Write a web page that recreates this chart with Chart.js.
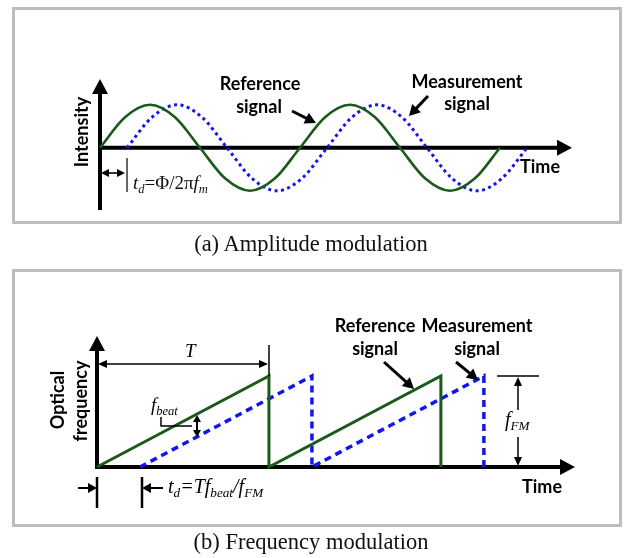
<!DOCTYPE html>
<html>
<head>
<meta charset="utf-8">
<script src="https://cdn.jsdelivr.net/npm/chart.js@4"></script>
<style>
  body { margin: 0; background: #fff; }
  #wrap { position: relative; width: 625px; height: 558px; background: #fff; }
  canvas { position: absolute; left: 0; }
  .cap { position: absolute; left: 0; width: 622px; text-align: center;
         font: 22.5px "Liberation Serif", serif; color: #111; line-height: 26px; }
</style>
</head>
<body>
<div id="wrap">
  <canvas id="chartA" width="625" height="258" style="top:0"></canvas>
  <canvas id="chartB" width="625" height="298" style="top:260px"></canvas>
  <div class="cap" style="top:231px">(a) Amplitude modulation</div>
  <div class="cap" style="top:529px">(b) Frequency modulation</div>
</div>
<script>
// Two schematic panels: AM phase delay and FM beat frequency

// (a) sine signals, x in eighths of a modulation period
const sineRefX  = [0, 1, 2, 3, 4, 5, 6, 7, 8, 9, 10, 11, 12, 13, 14, 15, 16];
const sineMeasX = [1.08, 2.08, 3.08, 4.08, 5.08, 6.08, 7.08, 8.08, 9.08, 10.08, 11.08, 12.08, 13.08, 14.08, 15.08, 16.08, 17.08];
const sineY     = [0, 0.71, 1, 0.71, 0, -0.71, -1, -0.71, 0, 0.71, 1, 0.71, 0, -0.71, -1, -0.71, 0];

// (b) sawtooth chirps, x in tenths of the sweep period T
const sawRefX  = [0, 10, 10, 20, 20];
const sawMeasX = [2.5, 12.5, 12.5, 22.5, 22.5];
const sawY     = [0, 1, 0, 1, 0];

const GREEN = '#1b5a1b';
const BLUE = '#1414f0';
const BOLD = 'bold 18px Lato, "Liberation Sans", sans-serif';
const SERIF = '"Liberation Serif", serif';

function pts(xs, ys) { return xs.map((x, i) => ({ x: x, y: ys[i] })); }

// Utility: filled arrow head at (x2,y2) pointing away from (x1,y1)
function head(ctx, x1, y1, x2, y2, len, half) {
    const a = Math.atan2(y2 - y1, x2 - x1);
    ctx.beginPath();
    ctx.moveTo(x2, y2);
    ctx.lineTo(x2 - len * Math.cos(a) + half * Math.sin(a), y2 - len * Math.sin(a) - half * Math.cos(a));
    ctx.lineTo(x2 - len * Math.cos(a) - half * Math.sin(a), y2 - len * Math.sin(a) + half * Math.cos(a));
    ctx.closePath();
    ctx.fill();
}

function arrow(ctx, x1, y1, x2, y2, w, len, half, both) {
    const a = Math.atan2(y2 - y1, x2 - x1);
    ctx.lineWidth = w;
    ctx.beginPath();
    ctx.moveTo(both ? x1 + len * 0.8 * Math.cos(a) : x1, both ? y1 + len * 0.8 * Math.sin(a) : y1);
    ctx.lineTo(x2 - len * 0.8 * Math.cos(a), y2 - len * 0.8 * Math.sin(a));
    ctx.stroke();
    head(ctx, x1, y1, x2, y2, len, half);
    if (both) head(ctx, x2, y2, x1, y1, len, half);
}

function line(ctx, pts, w) {
    ctx.lineWidth = w;
    ctx.beginPath();
    pts.forEach((p, i) => i ? ctx.lineTo(p[0], p[1]) : ctx.moveTo(p[0], p[1]));
    ctx.stroke();
}

function label(ctx, text, x, y, rot) {
    ctx.save();
    ctx.font = BOLD;
    ctx.textAlign = 'center';
    ctx.textBaseline = 'middle';
    ctx.translate(x, y);
    if (rot) ctx.rotate(-Math.PI / 2);
    ctx.fillText(text, 0, 0);
    ctx.restore();
}

// runs: [text, style] with 'i' italic, 's' subscript
function rich(ctx, x, y, runs, size) {
    ctx.textAlign = 'left';
    ctx.textBaseline = 'alphabetic';
    runs.forEach(([t, s]) => {
        const sub = s.includes('s');
        const fs = sub ? size * 0.66 : size;
        ctx.font = (s.includes('i') ? 'italic ' : '') + fs + 'px ' + SERIF;
        ctx.fillText(t, x, y + (sub ? size * 0.22 : 0));
        x += ctx.measureText(t).width;
    });
    return x;
}

function frame(ctx, x, y, w, h) {
    ctx.save();
    ctx.strokeStyle = '#bdbdbd';
    ctx.lineWidth = 3;
    ctx.strokeRect(x, y, w, h);
    ctx.restore();
}

// Axes with arrow tips, placed through the chart scales
function axes(chart, yBottom) {
    const ctx = chart.ctx, a = chart.chartArea;
    const x0 = chart.scales.x.getPixelForValue(0);
    const y0 = chart.scales.y.getPixelForValue(0);
    ctx.save();
    ctx.strokeStyle = '#000';
    ctx.fillStyle = '#000';
    ctx.lineWidth = 4;
    ctx.beginPath();
    ctx.moveTo(x0, y0); ctx.lineTo(a.right - 10, y0);
    ctx.moveTo(x0, yBottom); ctx.lineTo(x0, a.top + 10);
    ctx.stroke();
    head(ctx, x0, y0, a.right, y0, 15, 8);
    head(ctx, x0, yBottom, x0, a.top, 15, 8);
    ctx.restore();
}

const panelA = {
    id: 'panelA',
    beforeDraw(chart) {
        frame(chart.ctx, 13.5, 8.5, 607, 214);
    },
    beforeDatasetsDraw(chart) {
        axes(chart, 210);
    },
    afterDraw(chart) {
        const ctx = chart.ctx;
        ctx.save();
        ctx.fillStyle = '#000';
        ctx.strokeStyle = '#000';
        label(ctx, 'Intensity', 82, 132, true);
        label(ctx, 'Reference', 260, 84);
        label(ctx, 'signal', 259, 107);
        label(ctx, 'Measurement', 467, 82);
        label(ctx, 'signal', 467, 104);
        label(ctx, 'Time', 540, 167);
        arrow(ctx, 292, 111, 316, 123, 3, 11, 6);
        arrow(ctx, 428, 96, 409, 116, 3, 11, 6);
        // delay marker
        arrow(ctx, 101, 173, 125, 173, 1.6, 8, 4, true);
        ctx.strokeStyle = '#333';
        line(ctx, [[127, 158], [127, 192]], 1.5);
        ctx.fillStyle = '#111';
        rich(ctx, 133, 189, [['t', 'i'], ['d', 'is'], ['=Φ/2π', ''], ['f', 'i'], ['m', 'is']], 19);
        ctx.restore();
    }
};

const panelB = {
    id: 'panelB',
    beforeDraw(chart) {
        frame(chart.ctx, 13.5, 10.5, 607, 255);
    },
    beforeDatasetsDraw(chart) {
        axes(chart, chart.chartArea.bottom + 2);
    },
    afterDraw(chart) {
        const ctx = chart.ctx;
        ctx.save();
        ctx.fillStyle = '#000';
        ctx.strokeStyle = '#000';
        label(ctx, 'Optical', 58, 140, true);
        label(ctx, 'frequency', 81, 141, true);
        label(ctx, 'Reference', 375, 66);
        label(ctx, 'signal', 375, 89);
        label(ctx, 'Measurement', 477, 66);
        label(ctx, 'signal', 477, 89);
        label(ctx, 'Time', 542, 227);
        arrow(ctx, 384, 102, 414, 129, 3, 11, 6);
        arrow(ctx, 456, 102, 478, 120, 3, 11, 6);
        // sweep period T
        arrow(ctx, 98, 104, 268, 104, 1.5, 9, 4, true);
        line(ctx, [[269, 85], [269, 116]], 1.5);
        rich(ctx, 185, 97, [['T', 'i']], 19);
        // beat frequency
        rich(ctx, 151, 151, [['f', 'i'], ['beat', 'is']], 19);
        line(ctx, [[161, 157], [161, 166], [192, 166]], 1.5);
        arrow(ctx, 197, 155, 197, 177, 2, 7, 4, true);
        // delay marker
        line(ctx, [[97, 217], [97, 248]], 2.5);
        line(ctx, [[142, 217], [142, 248]], 2.5);
        arrow(ctx, 78, 228, 97, 228, 2, 9, 5);
        arrow(ctx, 163, 228, 142, 228, 2, 9, 5);
        rich(ctx, 168, 233, [['t', 'i'], ['d', 'is'], ['=T', 'i'], ['f', 'i'], ['beat', 'is'], ['/', 'i'], ['f', 'i'], ['FM', 'is']], 20);
        // sweep excursion
        line(ctx, [[497, 116], [539, 116]], 1.5);
        arrow(ctx, 518, 150, 518, 117, 1.5, 9, 4);
        arrow(ctx, 518, 177, 518, 206, 1.5, 9, 4);
        rich(ctx, 505, 166, [['f', 'i'], ['FM', 'is']], 20);
        ctx.restore();
    }
};

const common = {
    responsive: false,
    animation: false,
    devicePixelRatio: 1,
    plugins: { legend: { display: false }, tooltip: { enabled: false } },
    events: []
};

new Chart(document.getElementById('chartA').getContext('2d'), {
    type: 'line',
    data: {
        datasets: [
            { data: pts(sineRefX, sineY), borderColor: GREEN, borderWidth: 2.6, pointRadius: 0,
              cubicInterpolationMode: 'monotone', clip: false, fill: false },
            { data: pts(sineMeasX, sineY), borderColor: BLUE, borderWidth: 3, borderDash: [3, 3.5], pointRadius: 0,
              cubicInterpolationMode: 'monotone', clip: false, fill: false }
        ]
    },
    options: Object.assign({}, common, {
        layout: { padding: { left: 100, right: 53, top: 79, bottom: 50 } },
        scales: {
            x: { type: 'linear', min: 0, max: 18.88, display: false },
            y: { min: -1.4, max: 1.6, display: false }
        }
    }),
    plugins: [panelA]
});

new Chart(document.getElementById('chartB').getContext('2d'), {
    type: 'line',
    data: {
        datasets: [
            { data: pts(sawRefX, sawY), borderColor: GREEN, borderWidth: 3, pointRadius: 0,
              tension: 0, clip: false, fill: false },
            { data: pts(sawMeasX, sawY), borderColor: BLUE, borderWidth: 3.5, borderDash: [7, 5], pointRadius: 0,
              tension: 0, clip: false, fill: false }
        ]
    },
    options: Object.assign({}, common, {
        layout: { padding: { left: 97, right: 50, top: 76, bottom: 91 } },
        scales: {
            x: { type: 'linear', min: 0, max: 27.8, display: false },
            y: { min: 0, max: 1.44, display: false }
        }
    }),
    plugins: [panelB]
});
</script>
</body>
</html>
